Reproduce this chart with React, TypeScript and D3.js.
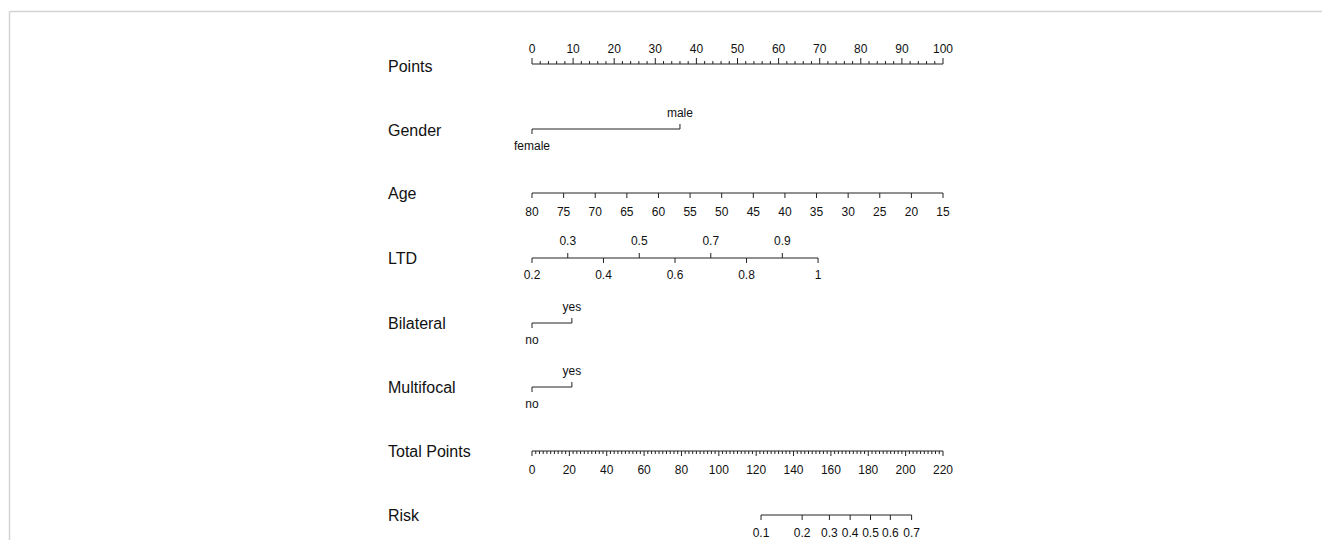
import React from 'react';
import * as d3 from 'd3';

// values
const pointTicks = [0, 10, 20, 30, 40, 50, 60, 70, 80, 90, 100];
const genderLevels = [
  { label: 'female', points: 0 },
  { label: 'male', points: 36 },
];
const ageTicks = [80, 75, 70, 65, 60, 55, 50, 45, 40, 35, 30, 25, 20, 15];
const ageRange = [80, 15];
const ltdTicks = [0.2, 0.3, 0.4, 0.5, 0.6, 0.7, 0.8, 0.9, 1];
const ltdRange = [0.2, 1];
const ltdMaxPoints = 69.6;
const bilateralLevels = [
  { label: 'no', points: 0 },
  { label: 'yes', points: 9.7 },
];
const multifocalLevels = [
  { label: 'no', points: 0 },
  { label: 'yes', points: 9.7 },
];
const totalTicks = [0, 20, 40, 60, 80, 100, 120, 140, 160, 180, 200, 220];
const riskTicks = [
  { label: '0.1', total: 122.6 },
  { label: '0.2', total: 144.6 },
  { label: '0.3', total: 159.2 },
  { label: '0.4', total: 170.3 },
  { label: '0.5', total: 181.2 },
  { label: '0.6', total: 191.8 },
  { label: '0.7', total: 203.2 },
];
const rowLabels = ['Points', 'Gender', 'Age', 'LTD', 'Bilateral', 'Multifocal', 'Total Points', 'Risk'];
const rowY = [66, 130, 193, 258, 323, 387, 451, 515];

const W = 1322, H = 540;
const font = 'Arial, "Liberation Sans", sans-serif';

export default function App() {
  const x = d3.scaleLinear().domain([0, 100]).range([532, 943]);
  const xTotal = d3.scaleLinear().domain([0, 220]).range([532, 943]);
  const agePts = d3.scaleLinear().domain(ageRange).range([0, 100]);
  const ltdPts = d3.scaleLinear().domain(ltdRange).range([0, ltdMaxPoints]);

  const pointMinor = d3.range(0, 101, 2);
  const totalMinor = d3.range(0, 221, 2);

  const tickText = (tx: number, ty: number, s: string, key: string) => (
    <text key={key} x={tx} y={ty} textAnchor="middle" dominantBaseline="central"
      fontSize={12} fontFamily={font} fill="#111">{s}</text>
  );

  // two-level bracket (categorical): first level tick down + label below, second tick up + label above
  const bracket = (levels: { label: string; points: number }[], y: number, key: string) => {
    const x0 = x(levels[0].points), x1 = x(levels[1].points);
    return (
      <g key={key} stroke="#222" fill="none">
        <line x1={x0} x2={x1} y1={y} y2={y} />
        <line x1={x0} x2={x0} y1={y} y2={y + 5} />
        <line x1={x1} x2={x1} y1={y} y2={y - 5} />
        <g stroke="none">
          {tickText(x0, y + 17, levels[0].label, key + 'a')}
          {tickText(x1, y - 16, levels[1].label, key + 'b')}
        </g>
      </g>
    );
  };

  const ltdFmt = (v: number) => (v === 1 ? '1' : v.toFixed(1));

  return (
    <svg width={W} height={H} style={{ position: 'absolute', left: 0, top: 0, background: '#fff' }}>
      {/* panel border */}
      <line x1={9.5} x2={W} y1={11.5} y2={11.5} stroke="#d4d4d4" strokeWidth={1.5} />
      <line x1={9.5} x2={9.5} y1={11.5} y2={H} stroke="#d4d4d4" strokeWidth={1.5} />

      {rowLabels.map((l, i) => (
        <text key={l} x={388} y={rowY[i]} dominantBaseline="central" fontSize={16}
          fontFamily={font} fill="#111">{l}</text>
      ))}

      {/* Points */}
      <g stroke="#222">
        <line x1={x(0)} x2={x(100)} y1={64} y2={64} />
        {pointMinor.map(v => (
          <line key={v} x1={x(v)} x2={x(v)} y1={64} y2={pointTicks.includes(v) ? 58 : 61} />
        ))}
      </g>
      {pointTicks.map(v => tickText(x(v), 49, String(v), 'p' + v))}

      {/* Gender */}
      {bracket(genderLevels, 129, 'g')}

      {/* Age */}
      <g stroke="#222">
        <line x1={x(agePts(ageTicks[0]))} x2={x(agePts(ageTicks[ageTicks.length - 1]))} y1={193} y2={193} />
        {ageTicks.map(v => (
          <line key={v} x1={x(agePts(v))} x2={x(agePts(v))} y1={193} y2={198} />
        ))}
      </g>
      {ageTicks.map(v => tickText(x(agePts(v)), 212, String(v), 'a' + v))}

      {/* LTD */}
      <g stroke="#222">
        <line x1={x(ltdPts(0.2))} x2={x(ltdPts(1))} y1={258} y2={258} />
        {ltdTicks.map((v, i) => (
          <line key={v} x1={x(ltdPts(v))} x2={x(ltdPts(v))} y1={258} y2={i % 2 === 0 ? 263 : 253} />
        ))}
      </g>
      {ltdTicks.map((v, i) => tickText(x(ltdPts(v)), i % 2 === 0 ? 275 : 241, ltdFmt(v), 'l' + v))}

      {/* Bilateral / Multifocal */}
      {bracket(bilateralLevels, 323, 'b')}
      {bracket(multifocalLevels, 387, 'm')}

      {/* Total Points */}
      <g stroke="#222">
        <line x1={xTotal(0)} x2={xTotal(220)} y1={451} y2={451} />
        {totalMinor.map(v => (
          <line key={v} x1={xTotal(v)} x2={xTotal(v)} y1={451} y2={totalTicks.includes(v) ? 456 : 454} />
        ))}
      </g>
      {totalTicks.map(v => tickText(xTotal(v), 470, String(v), 't' + v))}

      {/* Risk */}
      <g stroke="#222">
        <line x1={xTotal(riskTicks[0].total)} x2={xTotal(riskTicks[riskTicks.length - 1].total)} y1={515} y2={515} />
        {riskTicks.map(r => (
          <line key={r.label} x1={xTotal(r.total)} x2={xTotal(r.total)} y1={515} y2={520} />
        ))}
      </g>
      {riskTicks.map(r => tickText(xTotal(r.total), 533, r.label, 'r' + r.label))}
    </svg>
  );
}
